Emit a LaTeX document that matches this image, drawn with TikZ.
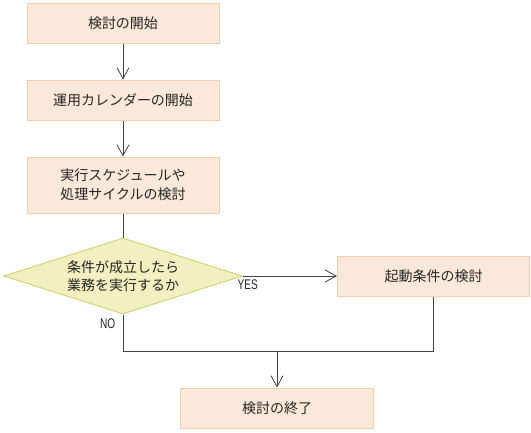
\documentclass[tikz,border=0pt]{standalone}
\usepackage{fontspec}
\setmainfont{Noto Sans CJK JP}
\newfontfamily\narrowfont[FakeStretch=0.72]{Liberation Sans}
\usepackage{tikz}
\usetikzlibrary{shapes,arrows,arrows.meta,positioning}
\definecolor{boxfill}{HTML}{FAE8D8}
\definecolor{boxline}{HTML}{F0CFAE}
\definecolor{decfill}{HTML}{F0F0C0}
\definecolor{decline}{HTML}{D4D47A}
\definecolor{wire}{HTML}{444444}

\begin{document}
\begin{tikzpicture}[auto, x=1pt, y=-1pt, node distance=36pt, >={Straight Barb[length=11pt,width=12pt]},
    block/.style={draw=boxline, fill=boxfill, rectangle, line width=1pt, minimum width=192pt, minimum height=40pt, align=center, text=black!85, font=\fontsize{14}{19}\selectfont},
    decision/.style={draw=decline, fill=decfill, diamond, line width=1pt, aspect=3.14, minimum width=239pt, minimum height=76pt, inner sep=0pt, align=center, text=black!85, font=\fontsize{14}{18}\selectfont},
    line/.style={draw=wire, line width=0.8pt},
    answer/.style={text=black!85, font=\narrowfont\fontsize{14}{14}\selectfont}]
    \useasboundingbox (0,0) rectangle (531,432);
    \node [block] (start) at (123,23) {検討の開始};
    \node [block, below=of start] (calendar) {運用カレンダーの開始};
    \node [block, below=of calendar, minimum height=56pt] (schedule) {実行スケジュールや\\処理サイクルの検討};
    \node [decision, below=24pt of schedule] (cond) {条件が成立したら\\業務を実行するか};
    \node [block, right=94pt of cond] (trigger) {起動条件の検討};
    \node [block, minimum width=193pt] (finish) at (277,408) {検討の終了};
    \coordinate (merge) at (finish.north |- 0,351);
    \draw [line, ->] (start) -- (calendar);
    \draw [line, ->] (calendar) -- (schedule);
    \draw [line] (schedule) -- (cond);
    \draw [line, ->] (cond) -- node[answer, below, pos=0.05] {YES} (trigger);
    \draw [line] (cond.south) -- node[answer, left, pos=0.25, xshift=-4pt] {NO} (cond.south |- merge) -- (trigger.south |- merge) -- (trigger.south);
    \draw [line, ->] (merge) -- (finish);
\end{tikzpicture}
\end{document}
